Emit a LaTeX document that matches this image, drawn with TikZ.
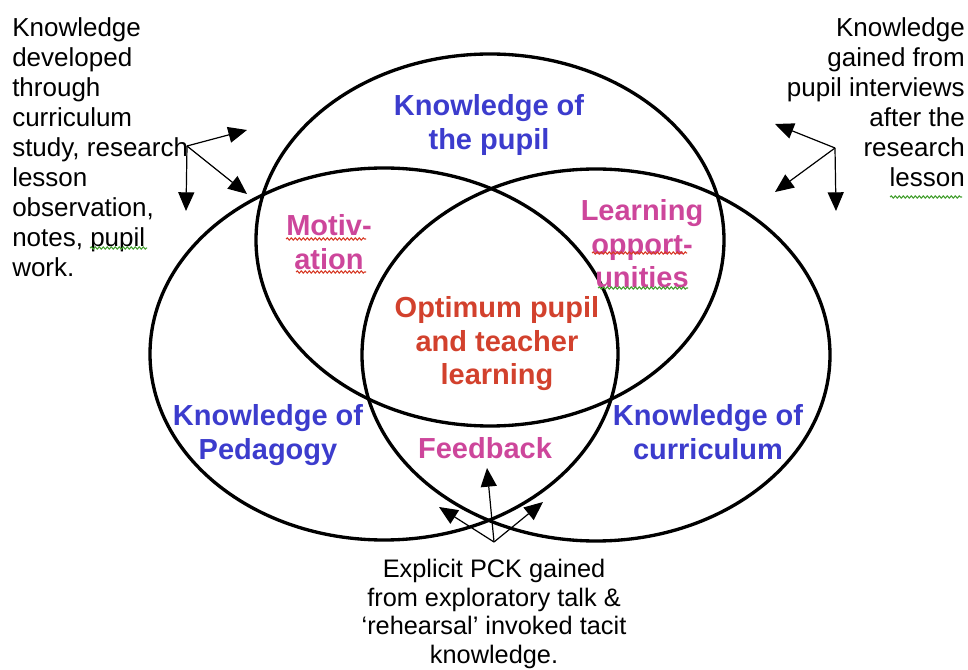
\documentclass[tikz,border=0pt]{standalone}
\usepackage{fontspec}
\setmainfont{Liberation Sans}
\usetikzlibrary{arrows.meta, decorations.pathmorphing}

\definecolor{kblue}{RGB}{60,60,205}
\definecolor{kpink}{RGB}{205,70,155}
\definecolor{kred}{RGB}{210,65,45}
\definecolor{spellred}{RGB}{215,60,40}
\definecolor{spellgreen}{RGB}{70,160,50}

\begin{document}
\begin{tikzpicture}[x=0.75pt, y=-0.75pt,
    ring/.style={draw, line width=2.5pt},
    head/.style={font=\fontsize{21.75}{25}\selectfont\bfseries, align=center, inner sep=0pt, anchor=north},
    note/.style={font=\fontsize{19.5}{22.5}\selectfont, inner sep=0pt},
    arr/.style={line width=0.9pt, -{Triangle[length=14pt, width=12pt]}},
    squig/.style={line width=0.8pt, decorate, decoration={snake, amplitude=0.8pt, segment length=3pt}}]
  \useasboundingbox (0,0) rectangle (968,670);

  % the three circles
  \draw[ring] (490,240) ellipse [x radius=175.5pt, y radius=139.5pt];
  \draw[ring] (384,354) ellipse [x radius=175.5pt, y radius=139.5pt];
  \draw[ring] (596,355) ellipse [x radius=175.5pt, y radius=139.5pt];

  % labels inside
  \node[head, text=kblue] (pupil) at (489,94.5) {Knowledge of\\the pupil};
  \node[head, text=kpink] (motiv) at (329,214.5) {Motiv-\\ation};
  \node[head, text=kpink] (learn) at (642,199.5) {Learning\\opport-\\unities};
  \node[head, text=kred] (optimum) at (497,296.5) {Optimum pupil\\and teacher\\learning};
  \node[head, text=kblue] (pedagogy) at (268,404.5) {Knowledge of\\Pedagogy};
  \node[head, text=kpink] (feedback) at (485,437.5) {Feedback};
  \node[head, text=kblue] (curric) at (708,404.5) {Knowledge of\\curriculum};

  % notes outside
  \node[note, anchor=north west, align=left] (leftnote) at (12,17)
    {Knowledge\\developed\\through\\curriculum\\study, research\\lesson\\observation,\\notes, pupil\\work.};
  \node[note, anchor=north east, align=right] (rightnote) at (965,17)
    {Knowledge\\gained from\\pupil interviews\\after the\\research\\lesson};
  \node[note, anchor=north, align=center, font=\fontsize{19}{21.5}\selectfont] (pcknote) at (494,559)
    {Explicit PCK gained\\from exploratory talk \&\\‘rehearsal’ invoked tacit\\knowledge.};

  % arrows
  \coordinate (lfork) at (187,146);
  \coordinate (lup) at (247,130);
  \coordinate (ldown) at (247,194);
  \coordinate (lbelow) at (186,211);
  \draw[arr] (lfork) -- (lup);
  \draw[arr] (lfork) -- (ldown);
  \draw[arr] (lfork) -- (lbelow);

  \coordinate (rfork) at (835,148);
  \coordinate (rup) at (775,124);
  \coordinate (rdown) at (775,192);
  \coordinate (rbelow) at (836,211);
  \draw[arr] (rfork) -- (rup);
  \draw[arr] (rfork) -- (rdown);
  \draw[arr] (rfork) -- (rbelow);

  \coordinate (bfork) at (494,542);
  \coordinate (bup) at (487,468);
  \coordinate (bleft) at (439,507);
  \coordinate (bright) at (543,502);
  \draw[arr] (bfork) -- (bup);
  \draw[arr] (bfork) -- (bleft);
  \draw[arr] (bfork) -- (bright);

  % spelling marks
  \draw[squig, spellred] (286,239) -- (366,239);
  \draw[squig, spellred] (296,272) -- (366,272);
  \draw[squig, spellred] (592,253) -- (687,253);
  \draw[squig, spellgreen] (598,288) -- (688,288);
  \draw[squig, spellgreen] (90,248) -- (147,248);
  \draw[squig, spellgreen] (890,197) -- (962,197);
\end{tikzpicture}
\end{document}
